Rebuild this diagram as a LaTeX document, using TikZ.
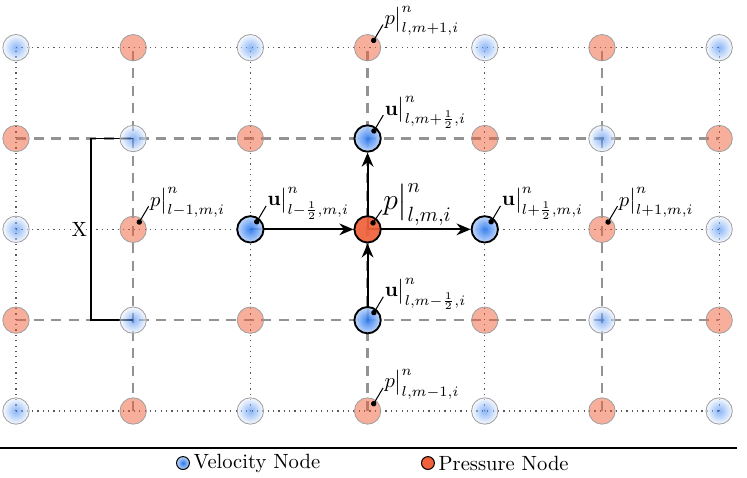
\documentclass[tikz,border=0pt]{standalone}
\usepackage{amsmath}
\usepackage{tikz}
\usetikzlibrary{arrows.meta,positioning,calc,backgrounds}
\definecolor{velo}{HTML}{2B78EE}
\definecolor{pres}{HTML}{F0603A}
\tikzset{
  vel/.style={circle, minimum size=0.45cm, inner sep=0pt, draw=gray!75, line width=0.4pt,
              shading=radial, inner color=velo, outer color=velo!6, fill opacity=0.55},
  prs/.style={circle, minimum size=0.45cm, inner sep=0pt, draw=gray!75, line width=0.4pt,
              fill=pres, fill opacity=0.5},
  velact/.style={vel, draw=black, line width=0.9pt, outer color=velo!30, fill opacity=0.92},
  prsact/.style={prs, draw=black, line width=0.9pt, fill opacity=0.92},
  dotline/.style={dotted, line width=0.6pt, draw=black!65},
  dashline/.style={dash pattern=on 5pt off 3.5pt, line width=1.1pt, draw=gray!85},
  flow/.style={-{Stealth[length=2.4mm, width=2mm]}, line width=0.9pt},
  tag/.style={{Circle[length=2.6pt]}-, line width=0.5pt, shorten <=-1.3pt},
  tagtext/.style={anchor=base west, inner sep=0.5pt},
}

\begin{document}
\begin{tikzpicture}[x=2cm, y=1.55cm]
  \useasboundingbox (-0.273cm,-1.143cm) rectangle (12.475cm,7.014cm);

  % staggered grid: velocity on even, pressure on odd sites
  \foreach \i in {0,...,6}
    \foreach \j in {0,...,4}{
      \pgfmathtruncatemacro\odd{mod(\i+\j,2)}
      \pgfmathtruncatemacro\act{(\j==2 && \i>1 && \i<5) || (\i==3 && \j>0 && \j<4)}
      \ifnum\act=0
        \ifnum\odd=0 \node[vel] (n-\i-\j) at (\i,\j) {};
        \else \node[prs] (n-\i-\j) at (\i,\j) {}; \fi
      \fi
    }

  % cell l,m and its faces
  \node[velact] (n-2-2) at (2,2) {};
  \node[prsact] (n-3-2) at (3,2) {};
  \node[velact] (n-4-2) at (4,2) {};
  \node[velact] (n-3-1) at (3,1) {};
  \node[velact] (n-3-3) at (3,3) {};

  \begin{scope}[on background layer]
    \foreach \j in {0,2,4} \draw[dotline] (n-0-\j.center) -- (n-6-\j.center);
    \foreach \j in {1,3} \draw[dashline] (n-0-\j.center) -- (n-6-\j.center);
    \foreach \i in {0,2,4,6} \draw[dotline] (n-\i-0.center) -- (n-\i-4.center);
    \foreach \i in {1,3,5} \draw[dashline] (n-\i-0.center) -- (n-\i-4.center);

    \draw[flow] (n-2-2.center) -- (n-3-2);
    \draw[flow] (n-3-2.center) -- (n-4-2);
    \draw[flow] (n-3-1.center) -- (n-3-2);
    \draw[flow] (n-3-2.center) -- (n-3-3);

    \draw[line width=0.9pt] (n-1-3.center) -- ++(-0.36,0)
      |- node[pos=0.25, left, inner sep=1.5pt, name=xlab] {X} (n-1-1.center);
  \end{scope}

  % labels
  \foreach \n/\l/\t in {n-3-4/pt/{$p\big|^n_{l,m+1,i}$},
                        n-3-3/ut/{$\mathbf{u}\big|^n_{l,m+\frac{1}{2},i}$},
                        n-2-2/ul/{$\mathbf{u}\big|^n_{l-\frac{1}{2},m,i}$},
                        n-4-2/ur/{$\mathbf{u}\big|^n_{l+\frac{1}{2},m,i}$},
                        n-1-2/pl/{$p\big|^n_{l-1,m,i}$},
                        n-5-2/pr/{$p\big|^n_{l+1,m,i}$},
                        n-3-1/ub/{$\mathbf{u}\big|^n_{l,m-\frac{1}{2},i}$},
                        n-3-0/pb/{$p\big|^n_{l,m-1,i}$}}{
    \coordinate (t-\l) at ($(\n.center)!0.7!(\n.50)$);
    \node[tagtext] (lab-\l) at ($(t-\l)+(0.16cm,0.27cm)$) {\t};
    \draw[tag] (t-\l) -- (lab-\l.base west);
  }
  \coordinate (t-pc) at ($(n-3-2.center)!0.6!(n-3-2.50)$);
  \node[tagtext, font=\Large] (lab-pc) at ($(t-pc)+(0.15cm,0.22cm)$) {$p\big|^n_{l,m,i}$};
  \draw[tag] (t-pc) -- (lab-pc.base west);

  % legend
  \draw[line width=0.9pt] (-0.273cm,-0.632cm) -- (12.3cm,-0.632cm);
  \node[velact, minimum size=0.22cm, line width=0.5pt, fill opacity=1] (leg-vel) at (2.85cm,-0.888cm) {};
  \node[right=0.4mm of leg-vel, inner sep=0.5pt] (leg-vel-txt) {Velocity Node};
  \node[prsact, minimum size=0.22cm, line width=0.5pt, fill opacity=1] (leg-prs) at (7.03cm,-0.888cm) {};
  \node[right=0.4mm of leg-prs, inner sep=0.5pt] (leg-prs-txt) {Pressure Node};
\end{tikzpicture}
\end{document}
